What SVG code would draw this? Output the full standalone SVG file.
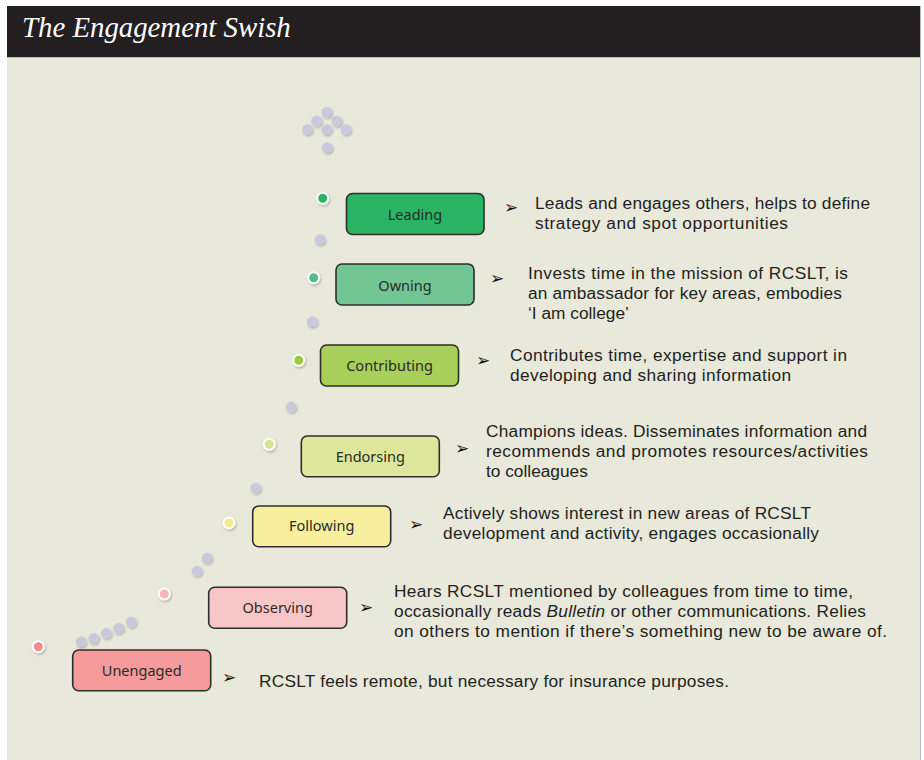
<svg xmlns="http://www.w3.org/2000/svg" width="924" height="760" viewBox="0 0 924 760">
<style>
.box{stroke:#2e2e2e;stroke-width:1.6}
.lbl{font-family:"Noto Sans","Open Sans",sans-serif;font-size:14.5px;fill:#2a2a2a;text-anchor:middle}
.desc{font-family:"Liberation Sans",Arial,sans-serif;font-size:17.3px;fill:#231f20}
.bul{font-family:"DejaVu Sans",sans-serif;font-size:17px;fill:#111}
.g{fill:#c9c9dd}
.c{stroke:#ffffff;stroke-width:2}
</style>
<defs>
<filter id="sh" x="-50%" y="-50%" width="200%" height="200%">
<feDropShadow dx="1" dy="1.5" stdDeviation="1" flood-color="#000" flood-opacity="0.25"/>
</filter>
</defs>
<rect x="0" y="0" width="924" height="760" fill="#ffffff"/>
<rect x="7" y="58" width="913" height="702" fill="#e8e8db"/>
<rect x="7" y="6" width="913" height="51" fill="#231f20"/>
<line x1="7" y1="57.5" x2="920" y2="57.5" stroke="#bdbdbd" stroke-width="1"/>
<line x1="920.5" y1="6" x2="920.5" y2="760" stroke="#bdbdbd" stroke-width="1"/>
<text x="22" y="37" font-family="Liberation Serif,serif" font-style="italic" font-size="28.8" fill="#ffffff">The Engagement Swish</text>

<g id="connectors" filter="url(#sh)">
<circle class="g" cx="326.7" cy="112.3" r="5.3"/>
<circle class="g" cx="316.7" cy="121" r="5.3"/>
<circle class="g" cx="336.7" cy="121" r="5.3"/>
<circle class="g" cx="307.3" cy="129.5" r="5.3"/>
<circle class="g" cx="326.7" cy="129.5" r="5.3"/>
<circle class="g" cx="346" cy="129.5" r="5.3"/>
<circle class="g" cx="327.3" cy="147.5" r="5.3"/>
<circle class="g" cx="320" cy="239.5" r="5.3"/>
<circle class="g" cx="312.3" cy="321.7" r="5.3"/>
<circle class="g" cx="291" cy="407" r="5.3"/>
<circle class="g" cx="255.7" cy="488" r="5.3"/>
<circle class="g" cx="207" cy="558" r="5.3"/>
<circle class="g" cx="197" cy="571" r="5.3"/>
<circle class="g" cx="131.3" cy="622" r="5.3"/>
<circle class="g" cx="118.7" cy="628.3" r="5.3"/>
<circle class="g" cx="106.3" cy="633.3" r="5.3"/>
<circle class="g" cx="93.7" cy="638.3" r="5.3"/>
<circle class="g" cx="81" cy="641.7" r="5.3"/>
</g>

<g id="leading">
<circle class="c" cx="322.7" cy="198.3" r="5.5" fill="#2bb463" filter="url(#sh)"/>
<rect class="box" x="346.5" y="193.5" width="137.5" height="41" rx="6" fill="#2bb463"/>
<text class="lbl" x="415" y="220">Leading</text>
<text class="bul" x="504" y="213">➢</text>
<text class="desc" x="535" y="209" textLength="335" lengthAdjust="spacing">Leads and engages others, helps to define</text>
<text class="desc" x="535" y="229" textLength="253" lengthAdjust="spacing">strategy and spot opportunities</text>
</g>

<g id="owning">
<circle class="c" cx="313.7" cy="277.7" r="5.5" fill="#4fbf87" filter="url(#sh)"/>
<rect class="box" x="336" y="264" width="138" height="41" rx="6" fill="#72c693"/>
<text class="lbl" x="405" y="290.5">Owning</text>
<text class="bul" x="490" y="284">➢</text>
<text class="desc" x="528" y="279" textLength="320" lengthAdjust="spacing">Invests time in the mission of RCSLT, is</text>
<text class="desc" x="528" y="299" textLength="314" lengthAdjust="spacing">an ambassador for key areas, embodies</text>
<text class="desc" x="528" y="319">‘I am college’</text>
</g>

<g id="contributing">
<circle class="c" cx="298.7" cy="360.3" r="5.5" fill="#9bcb3e" filter="url(#sh)"/>
<rect class="box" x="320.5" y="345" width="138" height="41" rx="6" fill="#a7cf5a"/>
<text class="lbl" x="389.5" y="371">Contributing</text>
<text class="bul" x="476" y="366">➢</text>
<text class="desc" x="510" y="361" textLength="337" lengthAdjust="spacing">Contributes time, expertise and support in</text>
<text class="desc" x="510" y="381" textLength="281" lengthAdjust="spacing">developing and sharing information</text>
</g>

<g id="endorsing">
<circle class="c" cx="269.3" cy="444.3" r="5.5" fill="#d6e492" filter="url(#sh)"/>
<rect class="box" x="301.3" y="436" width="138" height="40.7" rx="6" fill="#dde79c"/>
<text class="lbl" x="370.3" y="462">Endorsing</text>
<text class="bul" x="455" y="454">➢</text>
<text class="desc" x="486" y="437" textLength="381" lengthAdjust="spacing">Champions ideas. Disseminates information and</text>
<text class="desc" x="486" y="457" textLength="382" lengthAdjust="spacing">recommends and promotes resources/activities</text>
<text class="desc" x="486" y="477">to colleagues</text>
</g>

<g id="following">
<circle class="c" cx="229" cy="523" r="5.5" fill="#f3ec8e" filter="url(#sh)"/>
<rect class="box" x="252.7" y="506" width="138" height="40.7" rx="6" fill="#f8ef9e"/>
<text class="lbl" x="321.7" y="531">Following</text>
<text class="bul" x="409" y="530">➢</text>
<text class="desc" x="443" y="519" textLength="368" lengthAdjust="spacing">Actively shows interest in new areas of RCSLT</text>
<text class="desc" x="443" y="539" textLength="376" lengthAdjust="spacing">development and activity, engages occasionally</text>
</g>

<g id="observing">
<circle class="c" cx="164.3" cy="594" r="5.5" fill="#f7b5b8" filter="url(#sh)"/>
<rect class="box" x="208.7" y="587.3" width="138" height="41" rx="6" fill="#f9c6c8"/>
<text class="lbl" x="277.7" y="613">Observing</text>
<text class="bul" x="359" y="613">➢</text>
<text class="desc" x="394" y="597" textLength="459" lengthAdjust="spacing">Hears RCSLT mentioned by colleagues from time to time,</text>
<text class="desc" x="394" y="617" textLength="472" lengthAdjust="spacing">occasionally reads <tspan font-style="italic">Bulletin</tspan> or other communications. Relies</text>
<text class="desc" x="394" y="637" textLength="493" lengthAdjust="spacing">on others to mention if there’s something new to be aware of.</text>
</g>

<g id="unengaged">
<circle class="c" cx="38.3" cy="646.7" r="5.5" fill="#f28c90" filter="url(#sh)"/>
<rect class="box" x="72.7" y="650" width="138" height="40.7" rx="6" fill="#f59b9b"/>
<text class="lbl" x="141.7" y="676">Unengaged</text>
<text class="bul" x="222" y="683">➢</text>
<text class="desc" x="259" y="687" textLength="470" lengthAdjust="spacing">RCSLT feels remote, but necessary for insurance purposes.</text>
</g>
</svg>
